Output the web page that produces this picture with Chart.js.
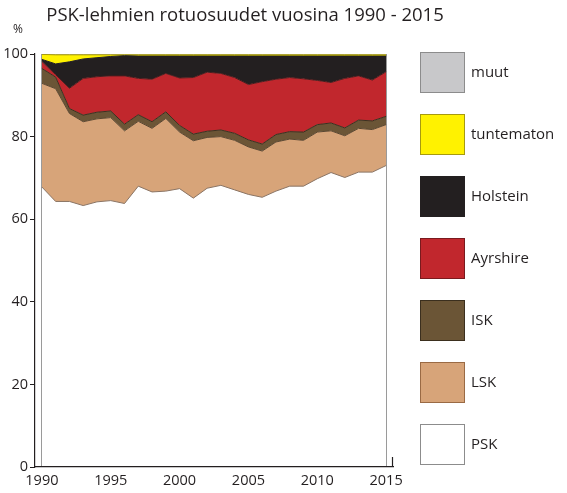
<!DOCTYPE html>
<html>
<head>
<meta charset="utf-8">
<script src="https://cdn.jsdelivr.net/npm/chart.js@4"></script>
<style>
  html, body { margin: 0; padding: 0; background: #ffffff; }
  #wrap { width: 567px; height: 493px; position: relative; }
</style>
</head>
<body>
<div id="wrap"><canvas id="c"></canvas></div>
<script>
const chartTitle = 'PSK-lehmien rotuosuudet vuosina 1990 - 2015';
const yUnit = '%';
const years = [1990,1991,1992,1993,1994,1995,1996,1997,1998,1999,2000,2001,2002,2003,2004,2005,2006,2007,2008,2009,2010,2011,2012,2013,2014,2015];
const psk =        [67.8,64.3,64.3,63.3,64.2,64.5,63.8,68.0,66.6,66.8,67.4,65.1,67.5,68.2,67.1,66.0,65.3,66.8,68.0,68.0,69.8,71.3,70.1,71.4,71.4,73.0];
const lsk =        [25.1,27.3,21.3,20.3,20.1,20.1,17.6,15.7,15.4,17.6,13.7,13.9,12.3,11.8,12.0,11.5,11.2,11.9,11.4,11.1,11.3,10.1,10.1,10.6,10.3, 9.9];
const isk =        [ 3.6, 2.8, 1.2, 1.6, 1.6, 1.6, 1.6, 1.6, 1.6, 1.6, 1.6, 1.6, 1.5, 1.6, 1.7, 1.7, 1.7, 1.8, 1.8, 2.0, 1.8, 1.9, 1.9, 2.0, 2.1, 2.0];
const ayrshire =   [ 1.7, 0.6, 4.9, 8.9, 8.6, 8.5,11.7, 8.8,10.3, 9.3,11.5,13.7,14.3,13.7,13.5,13.4,15.1,13.4,13.1,12.9,10.7, 9.8,12.0,10.7, 9.9,10.8];
const holstein =   [ 0.5, 2.6, 6.4, 4.7, 4.6, 4.7, 4.9, 5.4, 5.6, 4.2, 5.3, 5.2, 3.9, 4.2, 5.2, 6.9, 6.2, 5.6, 5.2, 5.5, 5.9, 6.4, 5.4, 4.8, 5.8, 3.8];
const tuntematon = [ 1.2, 2.2, 1.7, 1.0, 0.7, 0.4, 0.2, 0.3, 0.3, 0.3, 0.3, 0.3, 0.3, 0.3, 0.3, 0.3, 0.3, 0.3, 0.3, 0.3, 0.3, 0.3, 0.3, 0.3, 0.3, 0.3];
const muut =       [ 0.1, 0.2, 0.2, 0.2, 0.2, 0.2, 0.2, 0.2, 0.2, 0.2, 0.2, 0.2, 0.2, 0.2, 0.2, 0.2, 0.2, 0.2, 0.2, 0.2, 0.2, 0.2, 0.2, 0.2, 0.2, 0.2];
const xTickValues = [1990,1995,2000,2005,2010,2015];
const yTickValues = [0,20,40,60,80,100];

const series = [
  {label: 'PSK',        values: psk,        bg: '#ffffff', line: '#8a7464', box: '#8c8c8c', fill: false},
  {label: 'LSK',        values: lsk,        bg: '#d7a479', line: '#5a4630', box: '#9a6a44', fill: '-1'},
  {label: 'ISK',        values: isk,        bg: '#6b5536', line: '#3b2f1e', box: '#3b2f1e', fill: '-1'},
  {label: 'Ayrshire',   values: ayrshire,   bg: '#c1272d', line: '#4a1c1c', box: '#7a1a1e', fill: '-1'},
  {label: 'Holstein',   values: holstein,   bg: '#231f20', line: '#231f20', box: '#231f20', fill: '-1'},
  {label: 'tuntematon', values: tuntematon, bg: '#fff200', line: '#a69a10', box: '#a69a10', fill: '-1'},
  {label: 'muut',       values: muut,       bg: '#c8c8ca', line: '#8c8c8c', box: '#8c8c8c', fill: '-1'}
];

const dark = '#231f20';

const textPlugin = {
  id: 'textPlugin',
  afterDraw(chart) {
    const ctx = chart.ctx;
    ctx.save();
    ctx.fillStyle = dark;
    ctx.textAlign = 'center';
    ctx.textBaseline = 'middle';
    ctx.font = '18.5px "Open Sans"';
    ctx.fillText(chartTitle, 245, 16);
    ctx.font = '12px "Open Sans"';
    ctx.fillText(yUnit, 18, 30);

    // legend: one box per dataset, top to bottom in reverse stacking order
    const ds = chart.data.datasets;
    ctx.textAlign = 'left';
    ctx.font = '15px "Open Sans"';
    ctx.lineWidth = 1;
    for (let i = ds.length - 1, k = 0; i >= 0; i--, k++) {
      const bx = 420, by = 52 + 62 * k, bw = 45, bh = 41;
      ctx.fillStyle = ds[i].backgroundColor;
      ctx.fillRect(bx, by, bw, bh);
      ctx.strokeStyle = series[i].box;
      ctx.strokeRect(bx + 0.5, by + 0.5, bw - 1, bh - 1);
      ctx.fillStyle = dark;
      ctx.fillText(ds[i].label, 471, by + bh / 2);
    }

    // short end tick at right end of the x axis
    const xs = chart.scales.x;
    ctx.strokeStyle = dark;
    ctx.lineWidth = 1.2;
    ctx.beginPath();
    ctx.moveTo(xs.right - 0.5, xs.top);
    ctx.lineTo(xs.right - 0.5, xs.top - 10);
    ctx.stroke();
    ctx.restore();
  }
};

new Chart(document.getElementById('c'), {
  type: 'line',
  data: {
    datasets: series.map(s => ({
      label: s.label,
      data: years.map((y, i) => ({x: y, y: s.values[i]})),
      backgroundColor: s.bg,
      borderColor: s.line,
      borderWidth: 1,
      fill: s.fill,
      pointRadius: 0,
      pointHoverRadius: 0,
      tension: 0
    }))
  },
  options: {
    responsive: true,
    maintainAspectRatio: false,
    animation: false,
    events: [],
    layout: {padding: {top: 54, right: 174, left: 0, bottom: 0}},
    plugins: {
      title: {display: false},
      tooltip: {enabled: false},
      legend: {display: false}
    },
    scales: {
      x: {
        type: 'linear',
        min: 1989.5,
        max: 2015.5,
        afterBuildTicks: s => { s.ticks = xTickValues.map(v => ({value: v})); },
        afterFit: s => { s.height = 26; },
        ticks: {
          autoSkip: false,
          maxRotation: 0,
          padding: 5,
          color: dark,
          font: {family: '"Open Sans"', size: 14.5},
          callback: v => String(v)
        },
        grid: {
          drawTicks: false,
          color: c => (c.tick && (c.tick.value === 1990 || c.tick.value === 2015)) ? '#9a9a9a' : 'rgba(0,0,0,0)'
        },
        border: {display: true, color: dark, width: 1.2}
      },
      y: {
        stacked: true,
        min: 0,
        max: 100,
        afterBuildTicks: s => { s.ticks = yTickValues.map(v => ({value: v})); },
        afterFit: s => { s.width = 35; },
        ticks: {
          padding: 2,
          color: dark,
          font: {family: '"Open Sans"', size: 14.5}
        },
        grid: {drawOnChartArea: false, drawTicks: true, tickLength: 5, color: dark},
        border: {display: true, color: dark, width: 1.2}
      }
    }
  },
  plugins: [textPlugin]
});
</script>
</body>
</html>
